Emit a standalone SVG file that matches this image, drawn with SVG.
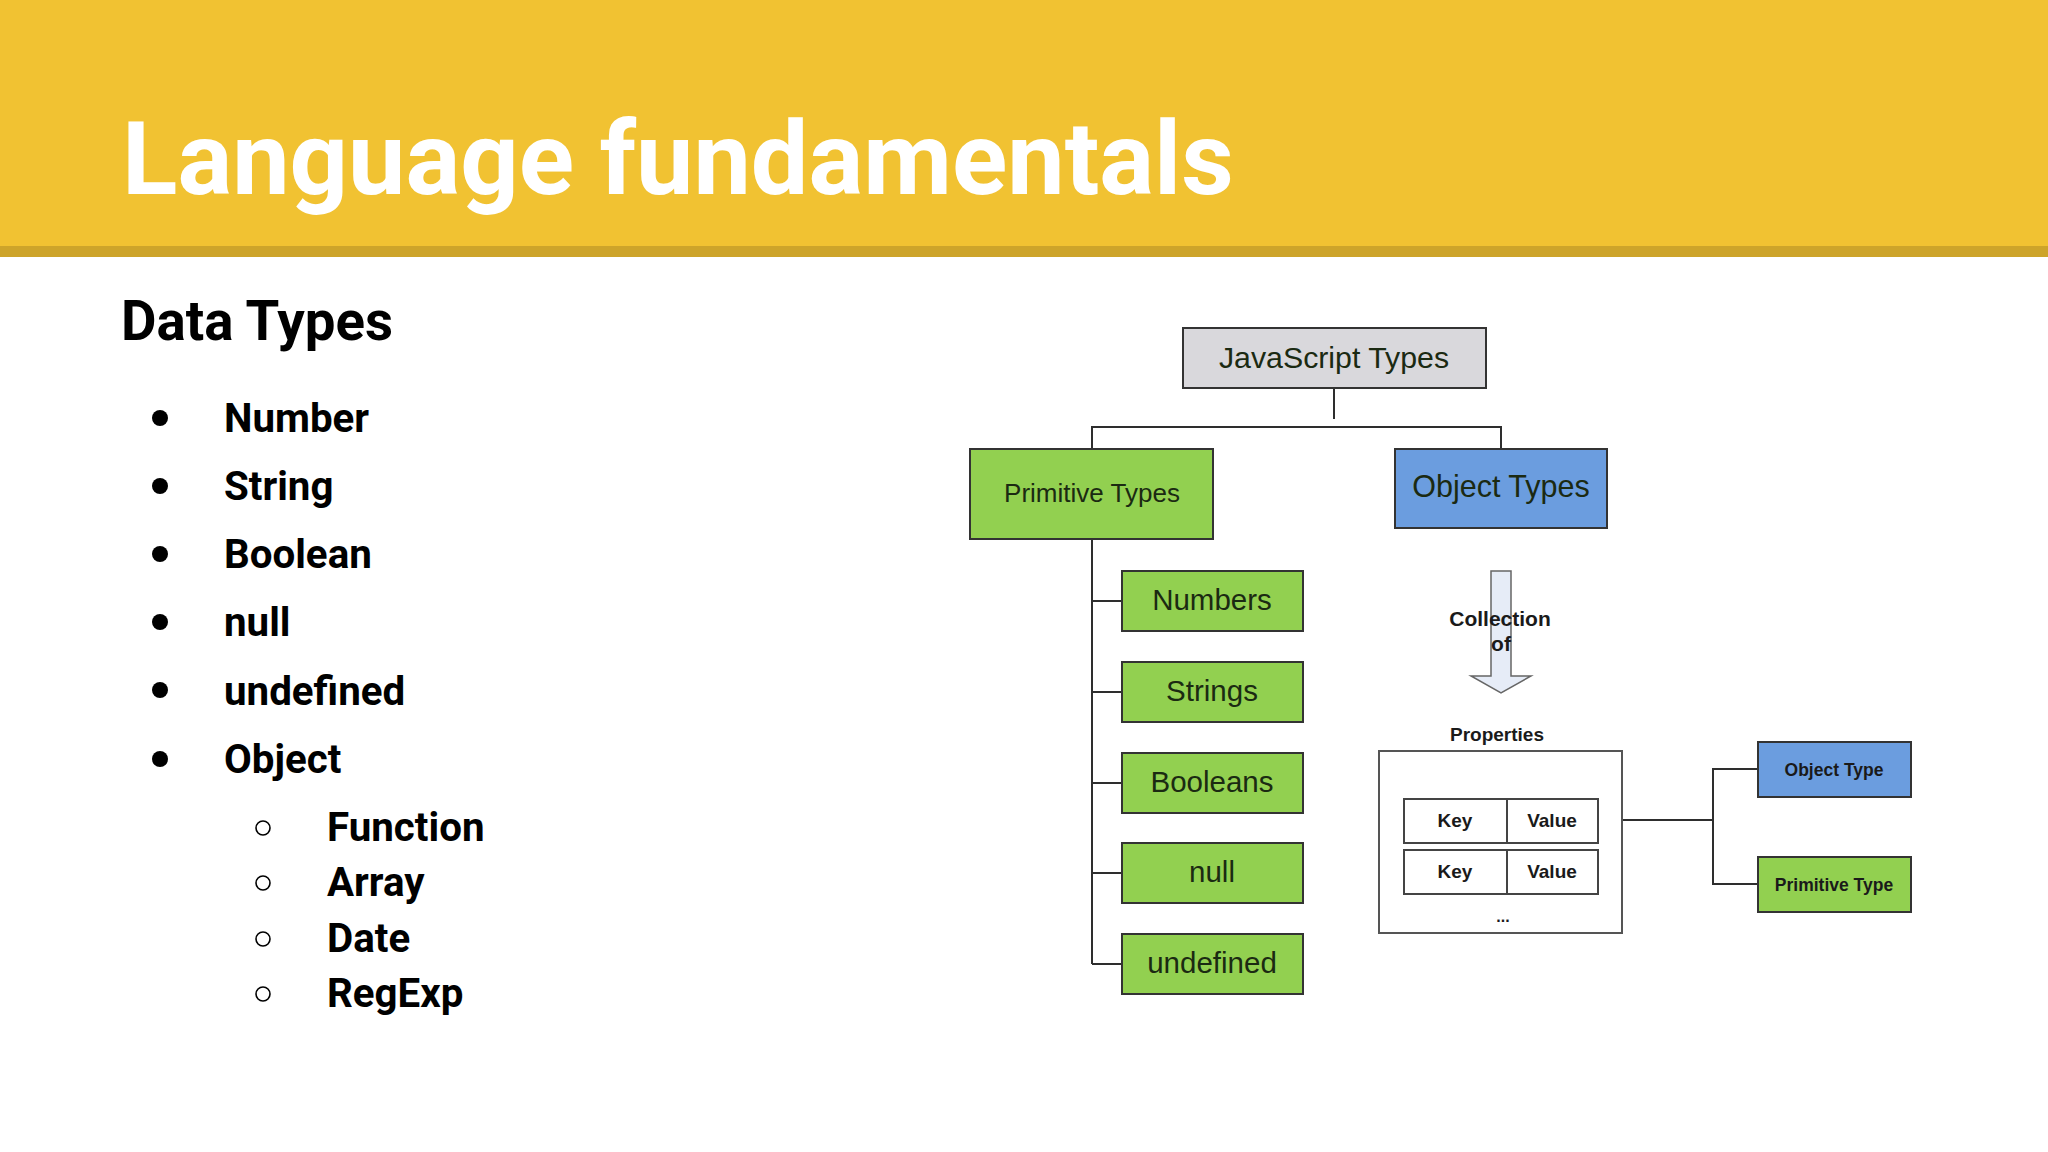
<svg xmlns="http://www.w3.org/2000/svg" width="2048" height="1152" viewBox="0 0 2048 1152">
<style>
.title{font-family:Roboto,"Liberation Sans",sans-serif;font-weight:700;fill:#fff}
.h2{font-family:Roboto,"Liberation Sans",sans-serif;font-weight:700;fill:#000}
.li{font-family:Roboto,"Liberation Sans",sans-serif;font-weight:700;font-size:40.3px;fill:#000}
.box{stroke:#333;stroke-width:2}
.gray{fill:#d9d8dc}
.green{fill:#92d050}
.blue{fill:#6b9ddf}
.t{font-family:"Liberation Sans",Arial,sans-serif;text-anchor:middle;fill:#1b2a12}
.tb{font-family:"Liberation Sans",Arial,sans-serif;font-weight:700;text-anchor:middle;fill:#1a1a1a}
.conn line,.conn polyline{stroke:#2e2e2e;stroke-width:2;fill:none}
</style>
<rect x="0" y="0" width="2048" height="246" fill="#f1c232"/>
<rect x="0" y="246" width="2048" height="11" fill="#cda42a"/>
<text class="title" x="122" y="194" font-size="102.4">Language fundamentals</text>
<text class="h2" x="121" y="340" font-size="54.6">Data Types</text>
<g id="list">
<circle cx="160" cy="418" r="8" fill="#000"/><text class="li" x="224" y="432">Number</text>
<circle cx="160" cy="486" r="8" fill="#000"/><text class="li" x="224" y="500">String</text>
<circle cx="160" cy="554" r="8" fill="#000"/><text class="li" x="224" y="568">Boolean</text>
<circle cx="160" cy="622" r="8" fill="#000"/><text class="li" x="224" y="636">null</text>
<circle cx="160" cy="690" r="8" fill="#000"/><text class="li" x="224" y="705">undefined</text>
<circle cx="160" cy="759" r="8" fill="#000"/><text class="li" x="224" y="773">Object</text>
<circle cx="263" cy="828" r="7" fill="none" stroke="#000" stroke-width="1.6"/><text class="li" x="327" y="841">Function</text>
<circle cx="263" cy="883" r="7" fill="none" stroke="#000" stroke-width="1.6"/><text class="li" x="327" y="896">Array</text>
<circle cx="263" cy="939" r="7" fill="none" stroke="#000" stroke-width="1.6"/><text class="li" x="327" y="952">Date</text>
<circle cx="263" cy="994" r="7" fill="none" stroke="#000" stroke-width="1.6"/><text class="li" x="327" y="1007">RegExp</text>
</g>
<g id="connectors" class="conn">
<line x1="1334" y1="388" x2="1334" y2="419"/>
<polyline points="1092,449 1092,427 1501,427 1501,449"/>
<line x1="1092" y1="539" x2="1092" y2="964"/>
<line x1="1092" y1="601" x2="1122" y2="601"/>
<line x1="1092" y1="692" x2="1122" y2="692"/>
<line x1="1092" y1="783" x2="1122" y2="783"/>
<line x1="1092" y1="873" x2="1122" y2="873"/>
<line x1="1092" y1="964" x2="1122" y2="964"/>
<line x1="1597" y1="820" x2="1713" y2="820"/>
<polyline points="1758,769 1713,769 1713,884 1758,884"/>
</g>
<g id="js-types"><rect class="box gray" x="1183" y="328" width="303" height="60"/><text class="t" x="1334" y="368" font-size="30.3" fill="#222">JavaScript Types</text></g>
<g id="primitive-types"><rect class="box green" x="970" y="449" width="243" height="90"/><text class="t" x="1092" y="502" font-size="26">Primitive Types</text></g>
<g id="object-types"><rect class="box blue" x="1395" y="449" width="212" height="79"/><text class="t" x="1501" y="497" font-size="30.5" fill="#14203a">Object Types</text></g>
<g id="numbers"><rect class="box green" x="1122" y="571" width="181" height="60"/><text class="t" x="1212" y="610" font-size="29.5">Numbers</text></g>
<g id="strings"><rect class="box green" x="1122" y="662" width="181" height="60"/><text class="t" x="1212" y="701" font-size="29.5">Strings</text></g>
<g id="booleans"><rect class="box green" x="1122" y="753" width="181" height="60"/><text class="t" x="1212" y="792" font-size="29.5">Booleans</text></g>
<g id="null"><rect class="box green" x="1122" y="843" width="181" height="60"/><text class="t" x="1212" y="882" font-size="29.5">null</text></g>
<g id="undefined"><rect class="box green" x="1122" y="934" width="181" height="60"/><text class="t" x="1212" y="973" font-size="29.5">undefined</text></g>
<g id="collection-of">
<path d="M1491,571 H1511 V676 H1531 L1501,693 L1471,676 H1491 Z" fill="#e6ecf7" stroke="#666" stroke-width="1.5"/>
<text class="tb" x="1500" y="626" font-size="21">Collection</text>
<text class="tb" x="1501" y="651" font-size="21">of</text>
</g>
<g id="properties">
<text class="tb" x="1497" y="741" font-size="19">Properties</text>
<rect x="1379" y="751" width="243" height="182" fill="#fff" stroke="#555" stroke-width="2"/>
<rect x="1404" y="799" width="194" height="44" fill="#fff" stroke="#444" stroke-width="2"/>
<line x1="1507" y1="799" x2="1507" y2="843" stroke="#444" stroke-width="2"/>
<rect x="1404" y="850" width="194" height="44" fill="#fff" stroke="#444" stroke-width="2"/>
<line x1="1507" y1="850" x2="1507" y2="894" stroke="#444" stroke-width="2"/>
<text class="tb" x="1455" y="827" font-size="19">Key</text>
<text class="tb" x="1552" y="827" font-size="19">Value</text>
<text class="tb" x="1455" y="878" font-size="19">Key</text>
<text class="tb" x="1552" y="878" font-size="19">Value</text>
<text class="tb" x="1503" y="922" font-size="16">...</text>
</g>
<g id="object-type"><rect class="box blue" x="1758" y="742" width="153" height="55"/><text class="tb" x="1834" y="776" font-size="17.5" fill="#14203a">Object Type</text></g>
<g id="primitive-type"><rect class="box green" x="1758" y="857" width="153" height="55"/><text class="tb" x="1834" y="891" font-size="17.5" fill="#1b2a12">Primitive Type</text></g>
</svg>
